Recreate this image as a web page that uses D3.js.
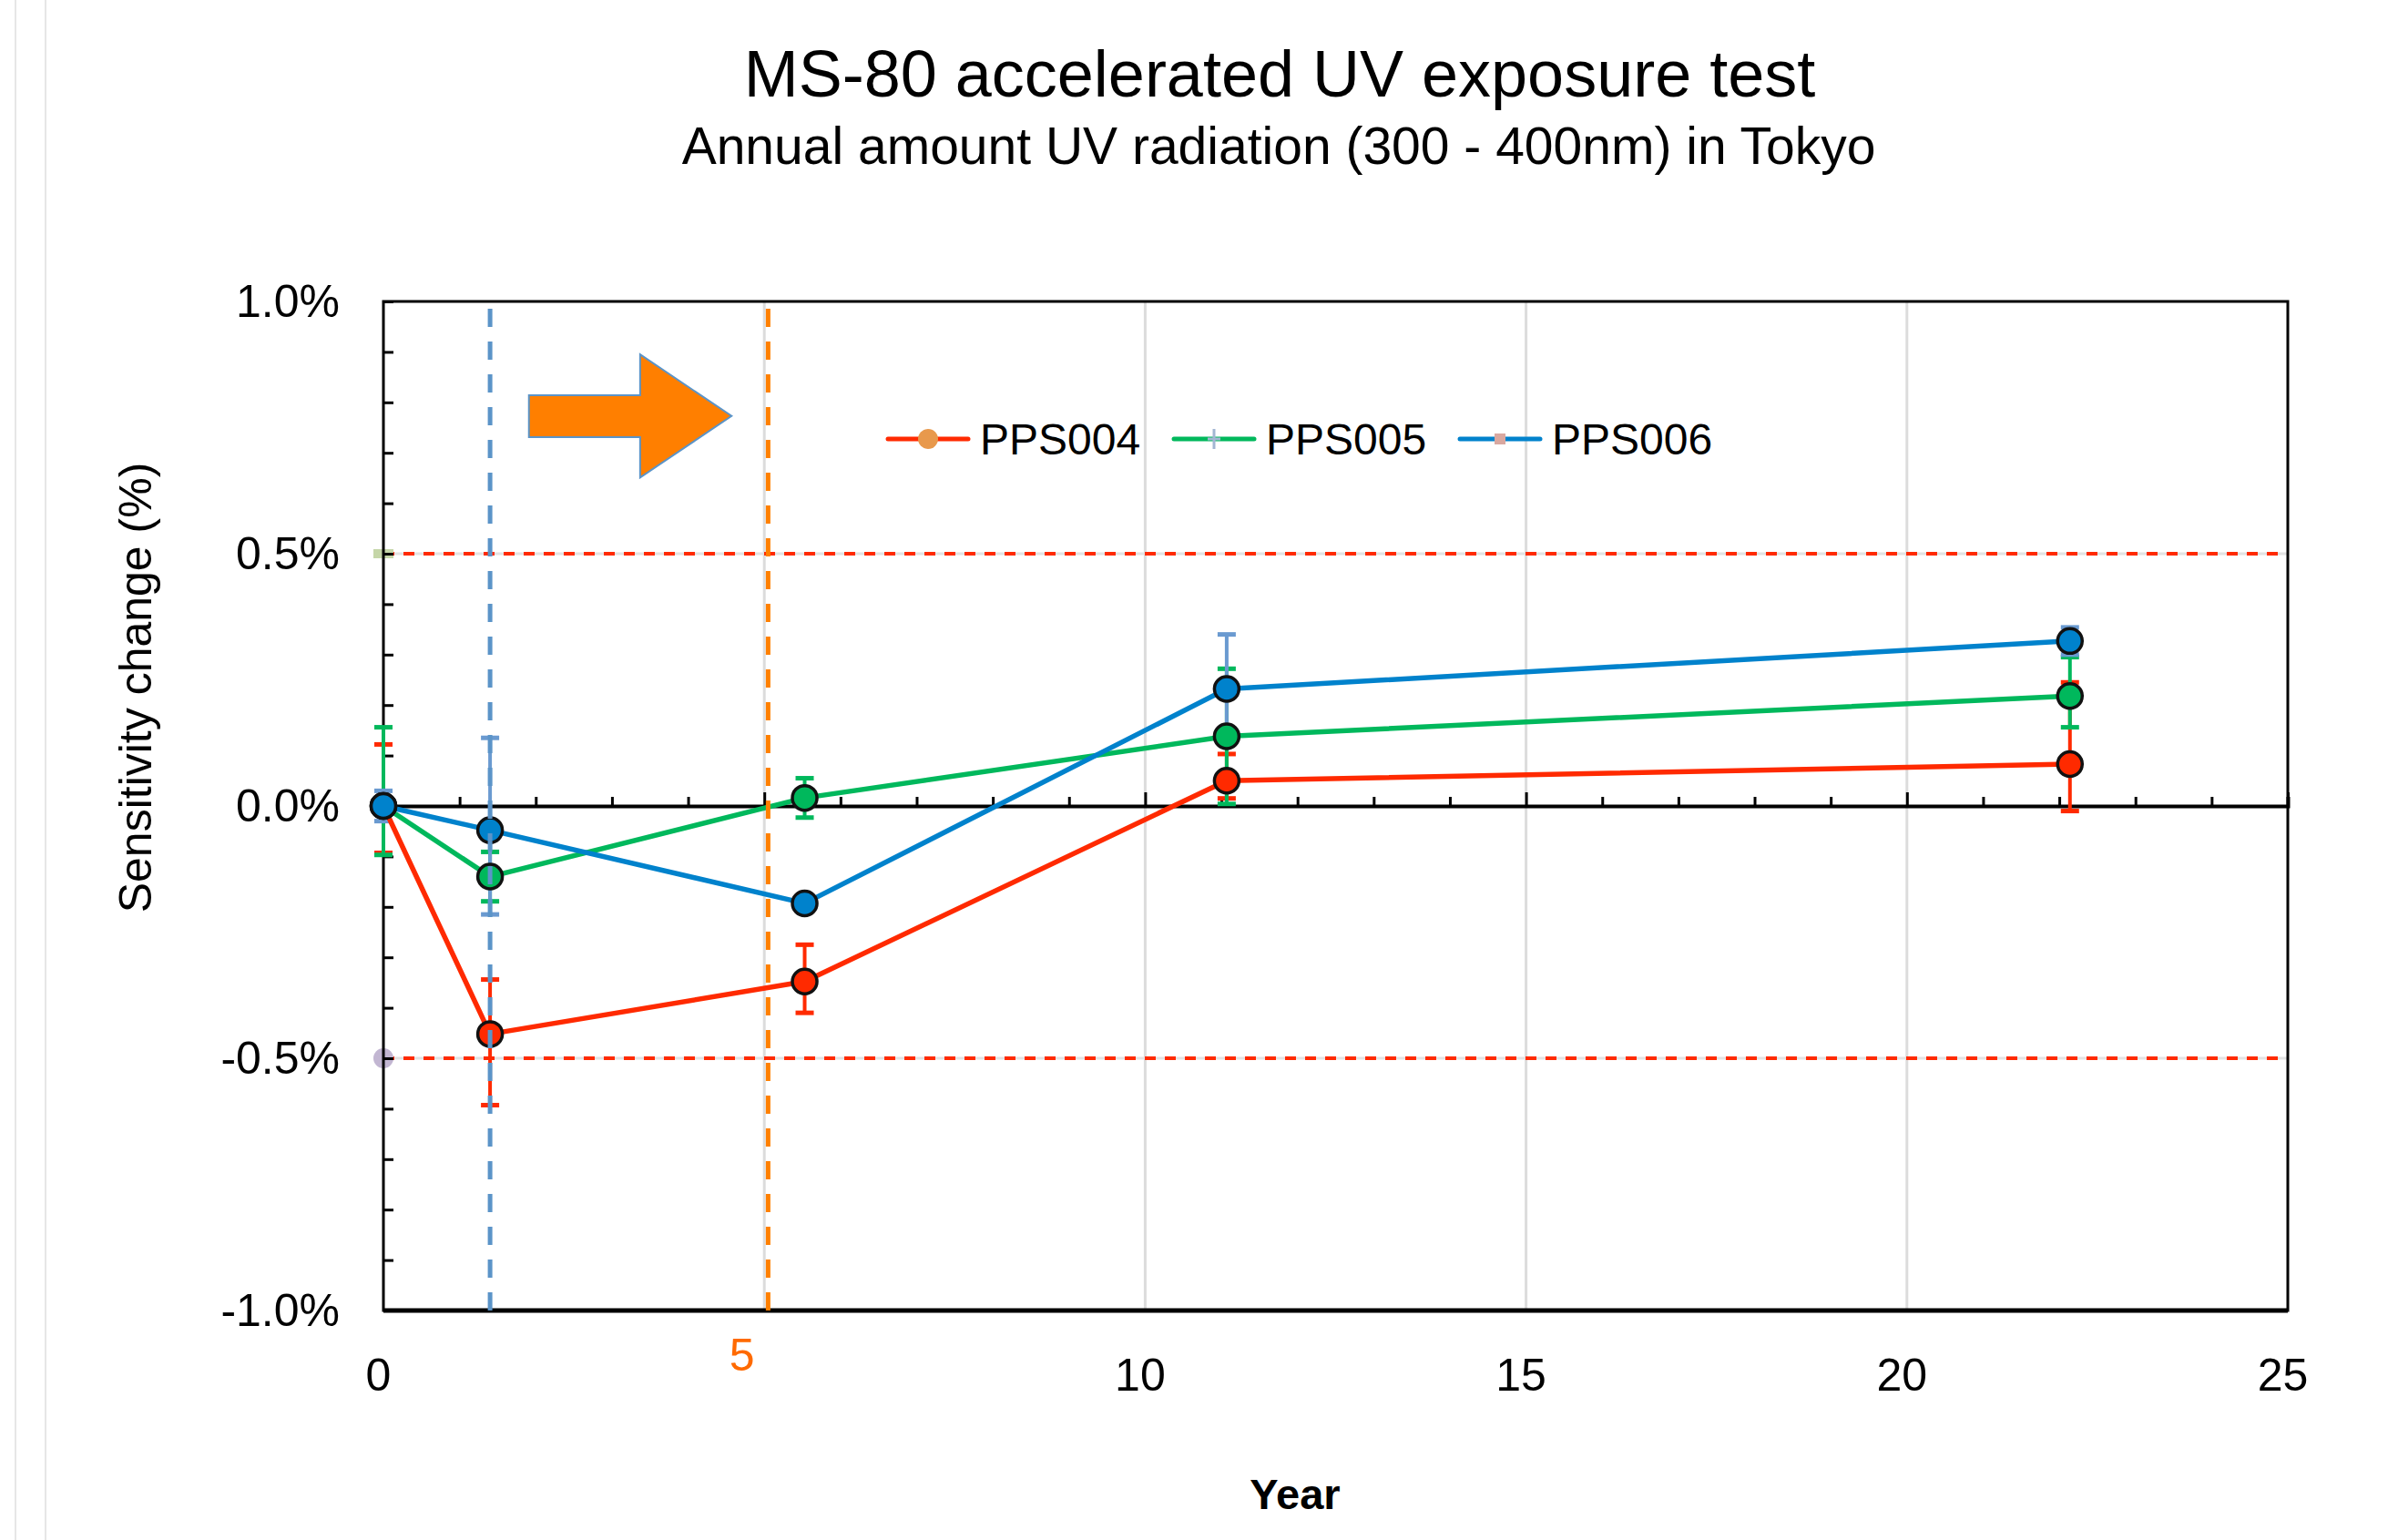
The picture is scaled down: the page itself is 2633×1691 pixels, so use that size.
<!DOCTYPE html>
<html>
<head>
<meta charset="utf-8">
<script src="https://cdn.jsdelivr.net/npm/d3@7"></script>
<style>
  html, body { margin: 0; padding: 0; background: #fff; }
  svg { display: block; }
  text { font-family: "Liberation Sans", Arial, Helvetica, sans-serif; }
</style>
</head>
<body>
<svg id="chart" width="2633" height="1691"></svg>
<script>
// ---------- data ----------
const years = [0, 1.4, 5.53, 11.07, 22.14];
const seriesNames = ["PPS004", "PPS005", "PPS006"];
const pps004 = [0, -0.452, -0.348, 0.050, 0.083];
const pps004Lo = [-0.093, -0.593, -0.410, 0.015, -0.010];
const pps004Hi = [0.122, -0.344, -0.275, 0.103, 0.245];
const pps005 = [0, -0.140, 0.016, 0.138, 0.218];
const pps005Lo = [-0.097, -0.189, -0.023, 0.004, 0.156];
const pps005Hi = [0.156, -0.091, 0.055, 0.272, 0.295];
const pps006 = [0, -0.048, -0.193, 0.232, 0.327];
const pps006Lo = [-0.030, -0.215, -0.200, 0.124, 0.300];
const pps006Hi = [0.030, 0.135, -0.186, 0.340, 0.354];
const limitLines = [0.5, -0.5];
const markerYears = [1.4, 5.05];
const xTickValues = [0, 5, 10, 15, 20, 25];
const xTickLabels = ["0", "5", "10", "15", "20", "25"];
const yTickValues = [-1, -0.5, 0, 0.5, 1];
const yTickLabels = ["-1.0%", "-0.5%", "0.0%", "0.5%", "1.0%"];
// arrow annotation (data coords: year, %)
const arrowPts = [[1.91, 0.814], [3.37, 0.814], [3.37, 0.895], [4.57, 0.773], [3.37, 0.651], [3.37, 0.731], [1.91, 0.731]];

const colors = { PPS004: "#ff2a00", PPS005: "#00b85c", PPS006: "#0082cc" };
const errColors = { PPS004: "#ff2a00", PPS005: "#00b85c", PPS006: "#6a9ad0" };

const series = [
  { name: "PPS004", v: pps004, lo: pps004Lo, hi: pps004Hi },
  { name: "PPS005", v: pps005, lo: pps005Lo, hi: pps005Hi },
  { name: "PPS006", v: pps006, lo: pps006Lo, hi: pps006Hi }
];

// ---------- layout ----------
const L = 421, R = 2512, T = 331, B = 1439;
const x = d3.scaleLinear().domain([0, 25]).range([L, R]);
const y = d3.scaleLinear().domain([-1, 1]).range([B, T]);

const svg = d3.select("#chart");

// faint page guides at left
[17, 50].forEach(px => svg.append("line").attr("x1", px).attr("x2", px).attr("y1", 0).attr("y2", 1691)
  .attr("stroke", "#e6e6e6").attr("stroke-width", 2));

// titles
svg.append("text").attr("x", 1405).attr("y", 106).attr("text-anchor", "middle")
  .attr("font-size", 72).text("MS-80 accelerated UV exposure test");
svg.append("text").attr("x", 1404).attr("y", 180).attr("text-anchor", "middle")
  .attr("font-size", 57).text("Annual amount UV radiation (300 - 400nm) in Tokyo");

// vertical gridlines
svg.append("g").selectAll("line").data([5, 10, 15, 20]).join("line")
  .attr("x1", d => x(d)).attr("x2", d => x(d)).attr("y1", T).attr("y2", B)
  .attr("stroke", "#dcdcdc").attr("stroke-width", 3);

// limit lines (gray base + red dashes)
const lim = svg.append("g");
lim.selectAll("line.base").data(limitLines).join("line").attr("class", "base")
  .attr("x1", L).attr("x2", R).attr("y1", d => y(d)).attr("y2", d => y(d))
  .attr("stroke", "#e2e2e2").attr("stroke-width", 3);
lim.selectAll("line.dash").data(limitLines).join("line").attr("class", "dash")
  .attr("x1", L).attr("x2", R).attr("y1", d => y(d)).attr("y2", d => y(d))
  .attr("stroke", "#ff2a00").attr("stroke-width", 4).attr("stroke-dasharray", "12,10");
// limit series markers on axis
svg.append("rect").attr("x", x(0) - 11).attr("y", y(0.5) - 5).attr("width", 22).attr("height", 10).attr("fill", "#c5d6a8");
svg.append("circle").attr("cx", x(0)).attr("cy", y(-0.5)).attr("r", 11).attr("fill", "#c2b6d2");

// frame
svg.append("rect").attr("x", L).attr("y", T).attr("width", R - L).attr("height", B - T)
  .attr("fill", "none").attr("stroke", "#000").attr("stroke-width", 3);
svg.append("line").attr("x1", L).attr("x2", R).attr("y1", B).attr("y2", B).attr("stroke", "#000").attr("stroke-width", 5);

// y axis labels
const yAx = svg.append("g").attr("transform", `translate(${L},0)`)
  .call(d3.axisLeft(y).tickValues(yTickValues).tickSize(0).tickPadding(48)
    .tickFormat((d, i) => yTickLabels[i]));
yAx.select(".domain").remove();
yAx.selectAll("text").attr("font-size", 50).attr("fill", "#000").attr("font-family", '"Liberation Sans", Arial, sans-serif');

// y minor inward ticks
const yMinor = svg.append("g").attr("transform", `translate(${L},0)`)
  .call(d3.axisRight(y).tickValues(d3.range(-10, 11).map(i => i / 10)).tickSize(11).tickFormat(""));
yMinor.select(".domain").remove();
yMinor.selectAll("line").attr("stroke", "#000").attr("stroke-width", 3);

// x axis labels (bottom)
const xAx = svg.append("g").attr("transform", `translate(0,${B})`)
  .call(d3.axisBottom(x).tickValues(xTickValues).tickSize(0).tickPadding(52)
    .tickFormat((d, i) => xTickLabels[i]));
xAx.select(".domain").remove();
xAx.selectAll("text").attr("font-size", 50).attr("fill", "#000").attr("x", -6).attr("font-family", '"Liberation Sans", Arial, sans-serif');
xAx.selectAll(".tick").filter(d => d === 5).select("text")
  .attr("fill", "#ff6a00").attr("x", x(4.7) - x(5)).attr("y", 30);

// zero line axis with upward ticks
const zAx = svg.append("g").attr("transform", `translate(0,${y(0)})`)
  .call(d3.axisTop(x).tickValues(d3.range(0, 26, 1)).tickSize(10).tickFormat(""));
zAx.select(".domain").attr("stroke", "#000").attr("stroke-width", 4);
zAx.selectAll(".tick line").attr("stroke", "#000").attr("stroke-width", 3)
  .attr("y2", d => d % 5 === 0 ? -15 : -10);

// error bars
const eb = svg.append("g");
series.forEach(s => {
  const g = eb.append("g").attr("stroke", errColors[s.name]).attr("stroke-width", 4);
  years.forEach((yr, i) => {
    g.append("line").attr("x1", x(yr)).attr("x2", x(yr)).attr("y1", y(s.lo[i])).attr("y2", y(s.hi[i]));
    [s.lo[i], s.hi[i]].forEach(v => g.append("line")
      .attr("x1", x(yr) - 10).attr("x2", x(yr) + 10).attr("y1", y(v)).attr("y2", y(v)).attr("stroke-width", 5));
  });
});

// lines
const line = d3.line().x((d, i) => x(years[i])).y(d => y(d));
series.forEach(s => {
  svg.append("path").datum(s.v).attr("d", line).attr("fill", "none")
    .attr("stroke", colors[s.name]).attr("stroke-width", 5.5).attr("stroke-linejoin", "round");
});
// markers
series.forEach(s => {
  svg.append("g").selectAll("circle").data(s.v).join("circle")
    .attr("cx", (d, i) => x(years[i])).attr("cy", d => y(d)).attr("r", 13.5)
    .attr("fill", colors[s.name]).attr("stroke", "#111").attr("stroke-width", 3.5);
});

// vertical dashed markers
svg.append("line").attr("x1", x(markerYears[0])).attr("x2", x(markerYears[0])).attr("y1", T + 8).attr("y2", B)
  .attr("stroke", "#5b94c8").attr("stroke-width", 5).attr("stroke-dasharray", "20,16");
svg.append("line").attr("x1", x(markerYears[1])).attr("x2", x(markerYears[1])).attr("y1", T + 8).attr("y2", B)
  .attr("stroke", "#ff8000").attr("stroke-width", 5).attr("stroke-dasharray", "20,16");

// arrow
svg.append("path").attr("d", d3.line().x(d => x(d[0])).y(d => y(d[1]))(arrowPts) + "Z")
  .attr("fill", "#ff7f00").attr("stroke", "#5b94c8").attr("stroke-width", 2);

// legend
const legendX = [975, 1289, 1603];
const legY = 482;
const leg = svg.append("g");
seriesNames.forEach((n, i) => {
  const lx = legendX[i];
  leg.append("line").attr("x1", lx).attr("x2", lx + 88).attr("y1", legY).attr("y2", legY)
    .attr("stroke", colors[n]).attr("stroke-width", 5).attr("stroke-linecap", "round");
  const cx = lx + 44;
  if (i === 0) leg.append("circle").attr("cx", cx).attr("cy", legY).attr("r", 11).attr("fill", "#e8994c");
  if (i === 1) {
    leg.append("line").attr("x1", cx).attr("x2", cx).attr("y1", legY - 11).attr("y2", legY + 11).attr("stroke", "#a3b6d3").attr("stroke-width", 3);
    leg.append("line").attr("x1", cx - 7).attr("x2", cx + 7).attr("y1", legY).attr("y2", legY).attr("stroke", "#a3b6d3").attr("stroke-width", 3);
  }
  if (i === 2) leg.append("rect").attr("x", cx - 6).attr("y", legY - 6).attr("width", 12).attr("height", 12).attr("fill", "#d9a8a0");
  leg.append("text").attr("x", lx + 101).attr("y", legY).attr("dy", "0.36em").attr("font-size", 48).text(n);
});

// axis titles
svg.append("text").attr("transform", "translate(148,755) rotate(-90)").attr("text-anchor", "middle")
  .attr("dy", "0.36em").attr("font-size", 50).text("Sensitivity change (%)");
svg.append("text").attr("x", 1422).attr("y", 1657).attr("text-anchor", "middle")
  .attr("font-size", 47).attr("font-weight", "bold").text("Year");
</script>
</body>
</html>
